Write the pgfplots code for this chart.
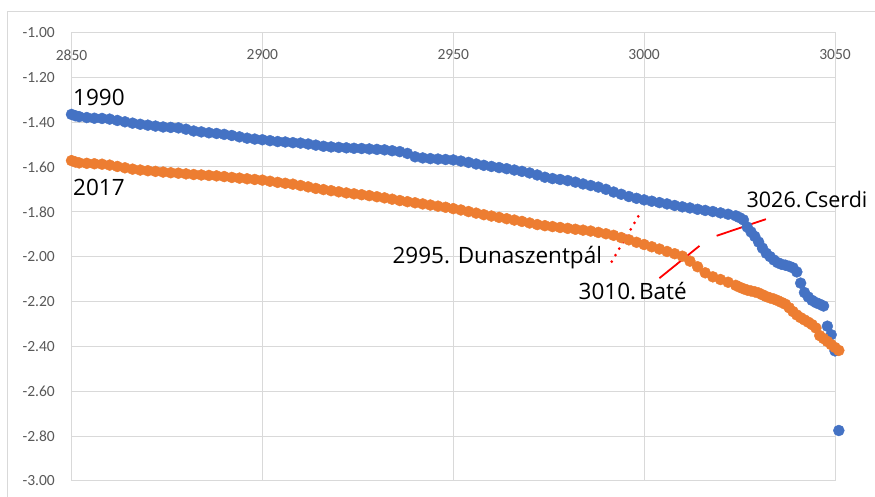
\documentclass[border=0pt]{standalone}
\usepackage{pgfplots}
\pgfplotsset{compat=1.18}
\usepackage{fontspec}
\setmainfont{Carlito}
\newfontfamily\annfont{Open Sans}

\definecolor{s1990}{HTML}{4472C4}
\definecolor{s2017}{HTML}{ED7D31}
\definecolor{gridgray}{HTML}{D9D9D9}
\definecolor{ticktext}{HTML}{595959}
\definecolor{annred}{HTML}{FF0000}

\pgfplotstableread{
x y
2850 -1.366
2851 -1.372
2852 -1.376
2854 -1.380
2856 -1.383
2858 -1.384
2860 -1.387
2862 -1.393
2864 -1.399
2866 -1.405
2868 -1.410
2870 -1.414
2872 -1.418
2874 -1.422
2876 -1.424
2878 -1.426
2880 -1.432
2882 -1.440
2884 -1.444
2886 -1.448
2888 -1.451
2890 -1.455
2892 -1.460
2894 -1.466
2896 -1.472
2898 -1.476
2900 -1.479
2902 -1.483
2904 -1.487
2906 -1.489
2908 -1.492
2910 -1.494
2912 -1.498
2914 -1.503
2916 -1.508
2918 -1.511
2920 -1.513
2922 -1.515
2924 -1.517
2926 -1.518
2928 -1.520
2930 -1.522
2932 -1.524
2934 -1.528
2936 -1.532
2938 -1.540
2940 -1.555
2942 -1.560
2944 -1.563
2946 -1.565
2948 -1.567
2950 -1.569
2952 -1.574
2954 -1.580
2956 -1.587
2958 -1.593
2960 -1.598
2962 -1.603
2964 -1.608
2966 -1.614
2968 -1.620
2970 -1.627
2972 -1.636
2974 -1.646
2976 -1.652
2978 -1.656
2980 -1.661
2982 -1.668
2984 -1.676
2986 -1.683
2988 -1.690
2990 -1.700
2992 -1.712
2994 -1.722
2996 -1.732
2998 -1.740
3000 -1.747
3002 -1.753
3004 -1.759
3006 -1.765
3008 -1.772
3010 -1.778
3012 -1.783
3014 -1.789
3016 -1.794
3018 -1.799
3020 -1.805
3022 -1.811
3024 -1.818
3025 -1.826
3026 -1.836
3027 -1.868
3028 -1.890
3029 -1.910
3030 -1.935
3031 -1.962
3032 -1.985
3033 -2.000
3034 -2.015
3035 -2.027
3036 -2.034
3037 -2.038
3038 -2.043
3039 -2.050
3040 -2.068
3041 -2.118
3042 -2.160
3043 -2.180
3044 -2.195
3045 -2.205
3046 -2.212
3047 -2.220
3048 -2.310
3049 -2.348
3050 -2.420
3051 -2.775
}\dataNinety

\pgfplotstableread{
x y
2850 -1.572
2851 -1.578
2852 -1.582
2854 -1.584
2856 -1.586
2858 -1.588
2860 -1.592
2862 -1.598
2864 -1.604
2866 -1.610
2868 -1.614
2870 -1.617
2872 -1.620
2874 -1.623
2876 -1.626
2878 -1.628
2880 -1.631
2882 -1.634
2884 -1.636
2886 -1.638
2888 -1.640
2890 -1.643
2892 -1.647
2894 -1.650
2896 -1.653
2898 -1.656
2900 -1.659
2902 -1.664
2904 -1.669
2906 -1.673
2908 -1.677
2910 -1.683
2912 -1.689
2914 -1.696
2916 -1.701
2918 -1.706
2920 -1.711
2922 -1.716
2924 -1.720
2926 -1.724
2928 -1.728
2930 -1.733
2932 -1.738
2934 -1.744
2936 -1.750
2938 -1.755
2940 -1.760
2942 -1.765
2944 -1.770
2946 -1.775
2948 -1.780
2950 -1.786
2952 -1.792
2954 -1.799
2956 -1.806
2958 -1.813
2960 -1.819
2962 -1.825
2964 -1.831
2966 -1.837
2968 -1.843
2970 -1.850
2972 -1.857
2974 -1.862
2976 -1.866
2978 -1.870
2980 -1.874
2982 -1.878
2984 -1.882
2986 -1.886
2988 -1.892
2990 -1.898
2992 -1.905
2994 -1.915
2996 -1.925
2998 -1.936
3000 -1.946
3002 -1.956
3004 -1.966
3006 -1.977
3008 -1.987
3010 -1.998
3012 -2.020
3014 -2.045
3016 -2.072
3018 -2.090
3020 -2.102
3022 -2.114
3024 -2.128
3025 -2.136
3026 -2.143
3027 -2.149
3028 -2.153
3029 -2.157
3030 -2.162
3031 -2.170
3032 -2.178
3033 -2.184
3034 -2.189
3035 -2.196
3036 -2.204
3037 -2.212
3038 -2.228
3039 -2.245
3040 -2.260
3041 -2.272
3042 -2.282
3043 -2.292
3044 -2.303
3045 -2.318
3046 -2.352
3047 -2.365
3048 -2.378
3049 -2.392
3050 -2.405
3051 -2.418
}\dataTwentySeventeen

\begin{document}
\begin{tikzpicture}[x=1pt,y=1pt]
\useasboundingbox (0,0) rectangle (875,497);
\fill[white] (0,0) rectangle (875,497);
% chart area frame
\draw[gridgray, line width=1pt] (7.3,0) -- (7.3,485.3) -- (875,485.3);
\begin{axis}[
  at={(71.5pt,16pt)}, anchor=south west,
  scale only axis, width=763.5pt, height=448.7pt,
  xmin=2850, xmax=3050, ymin=-3, ymax=-1,
  clip=false,
  axis line style={draw=gridgray, line width=1pt},
  grid=major,
  major grid style={draw=gridgray, line width=1pt},
  major tick length=0pt,
  xtick={2850,2900,2950,3000,3050},
  xticklabels={2850,2900,2950,3000,3050},
  xticklabel pos=upper,
  ytick={-3,-2.8,-2.6,-2.4,-2.2,-2,-1.8,-1.6,-1.4,-1.2,-1},
  yticklabels={-3.00,-2.80,-2.60,-2.40,-2.20,-2.00,-1.80,-1.60,-1.40,-1.20,-1.00},
  ticklabel style={font=\fontsize{15.5}{18}\selectfont, text=ticktext, inner sep=0pt},
  xticklabel style={anchor=center, yshift=-22.7pt},
  yticklabel style={anchor=east, xshift=-16.5pt},
]
\addplot[only marks, mark=*, mark size=5.5pt,
  mark options={fill=s1990, draw=s1990, line width=0.4pt}] table {\dataNinety};
\addplot[only marks, mark=*, mark size=5.5pt,
  mark options={fill=s2017, draw=s2017, line width=0.4pt}] table {\dataTwentySeventeen};

% series names
\node[anchor=west, inner sep=0pt, font=\annfont\fontsize{22.5}{26}\selectfont]
  at (axis cs:2850.4,-1.291) {1990};
\node[anchor=west, inner sep=0pt, font=\annfont\fontsize{22.5}{26}\selectfont]
  at (axis cs:2850.4,-1.691) {2017};

% settlement markers
\draw[annred, line width=3pt, line cap=round, dash pattern=on 0pt off 7.5pt]
  (axis cs:2991.5,-2.022) -- (axis cs:2998.5,-1.820);
\draw[annred, line width=1.8pt] (axis cs:3004.0,-2.096) -- (axis cs:3014.5,-1.952);
\draw[annred, line width=1.8pt] (axis cs:3019.0,-1.907) -- (axis cs:3031.9,-1.833);

\node[anchor=base east, inner sep=0pt, font=\annfont\fontsize{22.5}{26}\selectfont]
  at (axis cs:2989.0,-2.032) {2995. Dunaszentpál};
\node[anchor=base west, inner sep=0pt, font=\annfont\fontsize{22.5}{26}\selectfont]
  at (axis cs:2982.8,-2.189) {3010.\kern3pt Baté};
\node[anchor=base west, inner sep=0pt, font=\annfont\fontsize{21.5}{25}\selectfont]
  at (axis cs:3026.8,-1.7795) {3026.\kern3pt Cserdi};
\end{axis}
\end{tikzpicture}
\end{document}
